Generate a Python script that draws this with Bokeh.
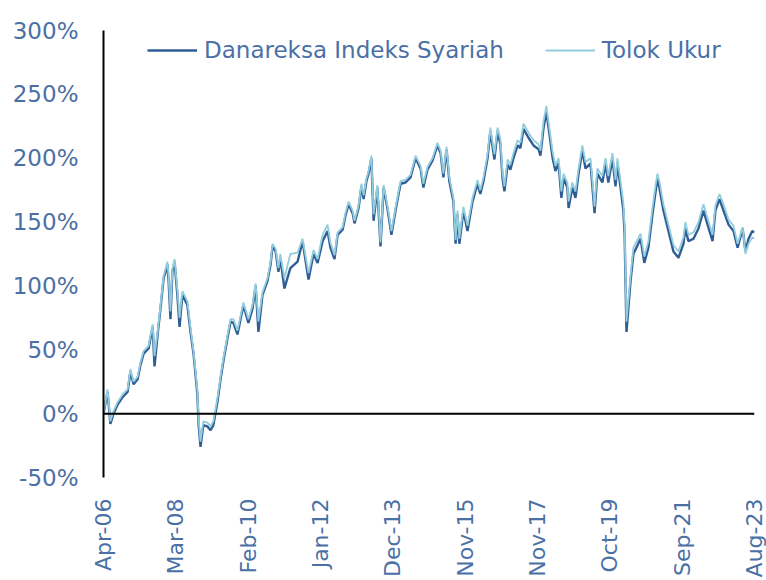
import math
import numpy as np
from bokeh.plotting import figure
from bokeh.models import (FixedTicker, PrintfTickFormatter, Span, Legend,
                          LegendItem, Range1d)
from bokeh.embed import file_html
from bokeh.resources import INLINE

# months elapsed since Apr-06
MONTHS = [0, 1.3, 2.2, 3.2, 4.5, 6.1, 7.7, 8.6, 9.6, 10.9, 11.8, 12.8, 14.4, 15.7,
          16.3, 17.3, 18.2, 19.2, 19.8, 20.4, 20.8, 21.4, 22.0, 22.7, 23.6, 24.3,
          25.2, 26.2, 26.8, 27.8, 28.8, 30.0, 30.4, 31.0, 31.9, 33.2, 34.2, 35.1,
          36.4, 37.4, 38.3, 39.6, 40.6, 41.5, 42.8, 44.7, 46.3, 47.6, 48.6, 49.5,
          50.8, 52.4, 53.4, 54.0, 55.0, 55.9, 56.5, 57.8, 59.7, 62.0, 63.6, 65.5,
          67.1, 68.4, 70.0, 71.6, 72.5, 73.8, 74.8, 76.4, 77.3, 78.3, 79.6, 80.2,
          81.5,
          82.4, 83.1, 84.0, 84.7, 85.6, 86.3, 87.5, 88.5, 89.5, 90.7, 92.0, 93.3,
          94.9, 96.5, 98.1, 99.7, 101.3, 102.2, 103.5, 105.1, 106.7, 107.7, 108.6,
          109.6, 110.5, 111.8, 112.5, 113.1, 113.7, 115.0, 116.3, 117.9, 119.5,
          120.4, 121.4, 122.7, 123.6, 124.9, 125.9, 126.8, 127.5, 128.1, 129.1,
          130.0, 131.0, 132.3, 133.2, 134.2, 135.8, 137.4, 139.0, 139.6, 140.6,
          141.5, 142.2, 143.5, 144.4, 145.4, 146.3, 147.0, 148.2, 148.6, 149.8,
          150.8, 151.8, 153.0, 154.0, 155.6, 156.9, 157.8, 159.4, 160.4, 161.3,
          162.6, 163.6, 164.2, 165.2, 166.1, 166.5, 167.1, 168.4, 169.3, 171.6,
          172.8, 174.1, 175.4, 176.4, 177.0, 177.6, 178.9, 180.5, 182.1, 183.7,
          185.3, 185.9, 186.9, 188.5, 190.1, 191.7, 193.0, 194.6, 195.5, 196.8,
          198.1, 199.7, 201.3, 202.6, 204.2, 205.1, 206.1, 207.3, 208.0]

DANAREKSA = [0, 17, -8, 0, 7, 13, 17, 33, 23, 27, 38, 47, 51, 68, 37, 62, 82, 106,
             111, 117, 104, 74, 111, 119, 93, 68, 93, 88, 85, 64, 46, 15, -9, -26,
             -9, -10, -13, -9, 9, 27, 41, 59, 72, 71, 62, 85, 71, 82, 100, 64, 93,
             104, 117, 131, 127, 111, 122, 98, 114, 119, 135, 105, 125, 118, 135,
             143, 130, 121, 140, 144, 155, 164, 157, 149, 161,
             178, 168, 182, 188, 200, 151, 177, 131, 177, 161, 140, 159, 180, 181,
             185, 200, 192, 177, 191, 198, 210, 204, 185, 207, 182, 166, 133, 156,
             133, 159, 143, 166, 180, 172, 182, 200, 221, 199, 221, 211, 184, 174,
             195, 191, 200, 210, 208, 223, 216, 210, 207, 202, 224, 236, 224, 200,
             190, 196, 169, 184, 177, 161, 177, 169, 188, 206, 192, 196, 157, 188,
             181, 196, 181, 200, 178, 196, 177, 159, 140, 64, 104, 125, 137, 118,
             130, 156, 174, 184, 177, 159, 143, 127, 122, 133, 145, 135, 137, 145,
             159, 148, 135, 159, 168, 159, 148, 143, 130, 145, 127, 137, 143, 142]

TOLOK_UKUR = [0, 19, -6, 2, 9, 15, 19, 35, 25, 29, 40, 49, 53, 70, 45, 64, 84, 108,
              113, 119, 108, 80, 113, 121, 97, 75, 96, 91, 88, 67, 48, 18, -5, -22,
              -6, -7, -10, -6, 12, 29, 43, 61, 74, 74, 65, 87, 74, 85, 102, 72, 95,
              106, 119, 133, 129, 114, 125, 106, 125, 126, 137, 110, 128, 121, 140,
              148, 134, 124, 142, 146, 157, 166, 159, 151, 163,
              180, 171, 184, 190, 202, 156, 179, 134, 179, 163, 143, 161, 182, 183,
              187, 202, 194, 180, 193, 200, 212, 206, 188, 209, 185, 169, 136, 159,
              137, 162, 147, 169, 183, 175, 185, 203, 224, 203, 224, 215, 188, 178,
              199, 195, 204, 214, 212, 227, 220, 214, 211, 206, 229, 241, 228, 205,
              194, 200, 174, 188, 181, 166, 181, 174, 192, 210, 197, 200, 162, 192,
              186, 200, 186, 204, 183, 200, 182, 165, 146, 72, 108, 130, 141, 123,
              135, 161, 179, 188, 182, 164, 148, 132, 127, 138, 150, 140, 142, 150,
              164, 153, 140, 163, 172, 164, 152, 147, 133, 146, 125, 133, 138, 137]

X_TICK_LABELS = ["Apr-06", "Mar-08", "Feb-10", "Jan-12", "Dec-13", "Nov-15",
                 "Nov-17", "Oct-19", "Sep-21", "Aug-23"]
Y_TICKS = [-50, 0, 50, 100, 150, 200, 250, 300]

FONT = "DejaVu Sans"
TEXT_COLOR = "#4a70a6"
DARK = "#2f5d95"
LIGHT = "#92cddd"

p = figure(width=766, height=580, output_backend="svg", toolbar_location=None,
           x_range=Range1d(0, 208), y_range=Range1d(-50, 300),
           min_border_left=103, min_border_right=12, min_border_top=30,
           min_border_bottom=103)
p.outline_line_color = None
p.grid.visible = False
p.background_fill_color = "white"
p.border_fill_color = "white"

r1 = p.line(MONTHS, DANAREKSA, line_color=DARK, line_width=2.4)
r2 = p.line(MONTHS, TOLOK_UKUR, line_color=LIGHT, line_width=1.8)

p.add_layout(Span(location=0, dimension="width", line_color="black", line_width=2))

tick_pos = list(np.linspace(0, 208, len(X_TICK_LABELS)))
p.xaxis.ticker = FixedTicker(ticks=tick_pos)
p.xaxis.major_label_overrides = {t: l for t, l in zip(tick_pos, X_TICK_LABELS)}
p.xaxis.major_label_orientation = math.pi / 2
p.xaxis.axis_line_color = None
p.xaxis.major_label_standoff = 21
p.xaxis.major_label_text_font_size = "22px"

p.yaxis.ticker = FixedTicker(ticks=Y_TICKS)
p.yaxis.formatter = PrintfTickFormatter(format="%d%%")
p.yaxis.axis_line_color = "black"
p.yaxis.axis_line_width = 2
p.yaxis.major_label_standoff = 25
p.yaxis.major_label_text_font_size = "23px"

for ax in (p.xaxis, p.yaxis):
    ax.major_tick_line_color = None
    ax.minor_tick_line_color = None
    ax.major_tick_out = 0
    ax.major_tick_in = 0
    ax.minor_tick_out = 0
    ax.minor_tick_in = 0
    ax.axis_label_standoff = 0
    ax.major_label_text_font = FONT
    ax.major_label_text_color = TEXT_COLOR

legend = Legend(items=[LegendItem(label="Danareksa Indeks Syariah", renderers=[r1]),
                       LegendItem(label="Tolok Ukur", renderers=[r2])],
                orientation="horizontal", location=(44, 414),
                glyph_width=50, glyph_height=26, label_height=26,
                label_standoff=7, spacing=41, padding=0, margin=0,
                border_line_color=None, background_fill_alpha=0,
                label_text_font=FONT, label_text_font_size="23px",
                label_text_color=TEXT_COLOR)
p.add_layout(legend)

open("out.html", "w").write(file_html(p, INLINE))
